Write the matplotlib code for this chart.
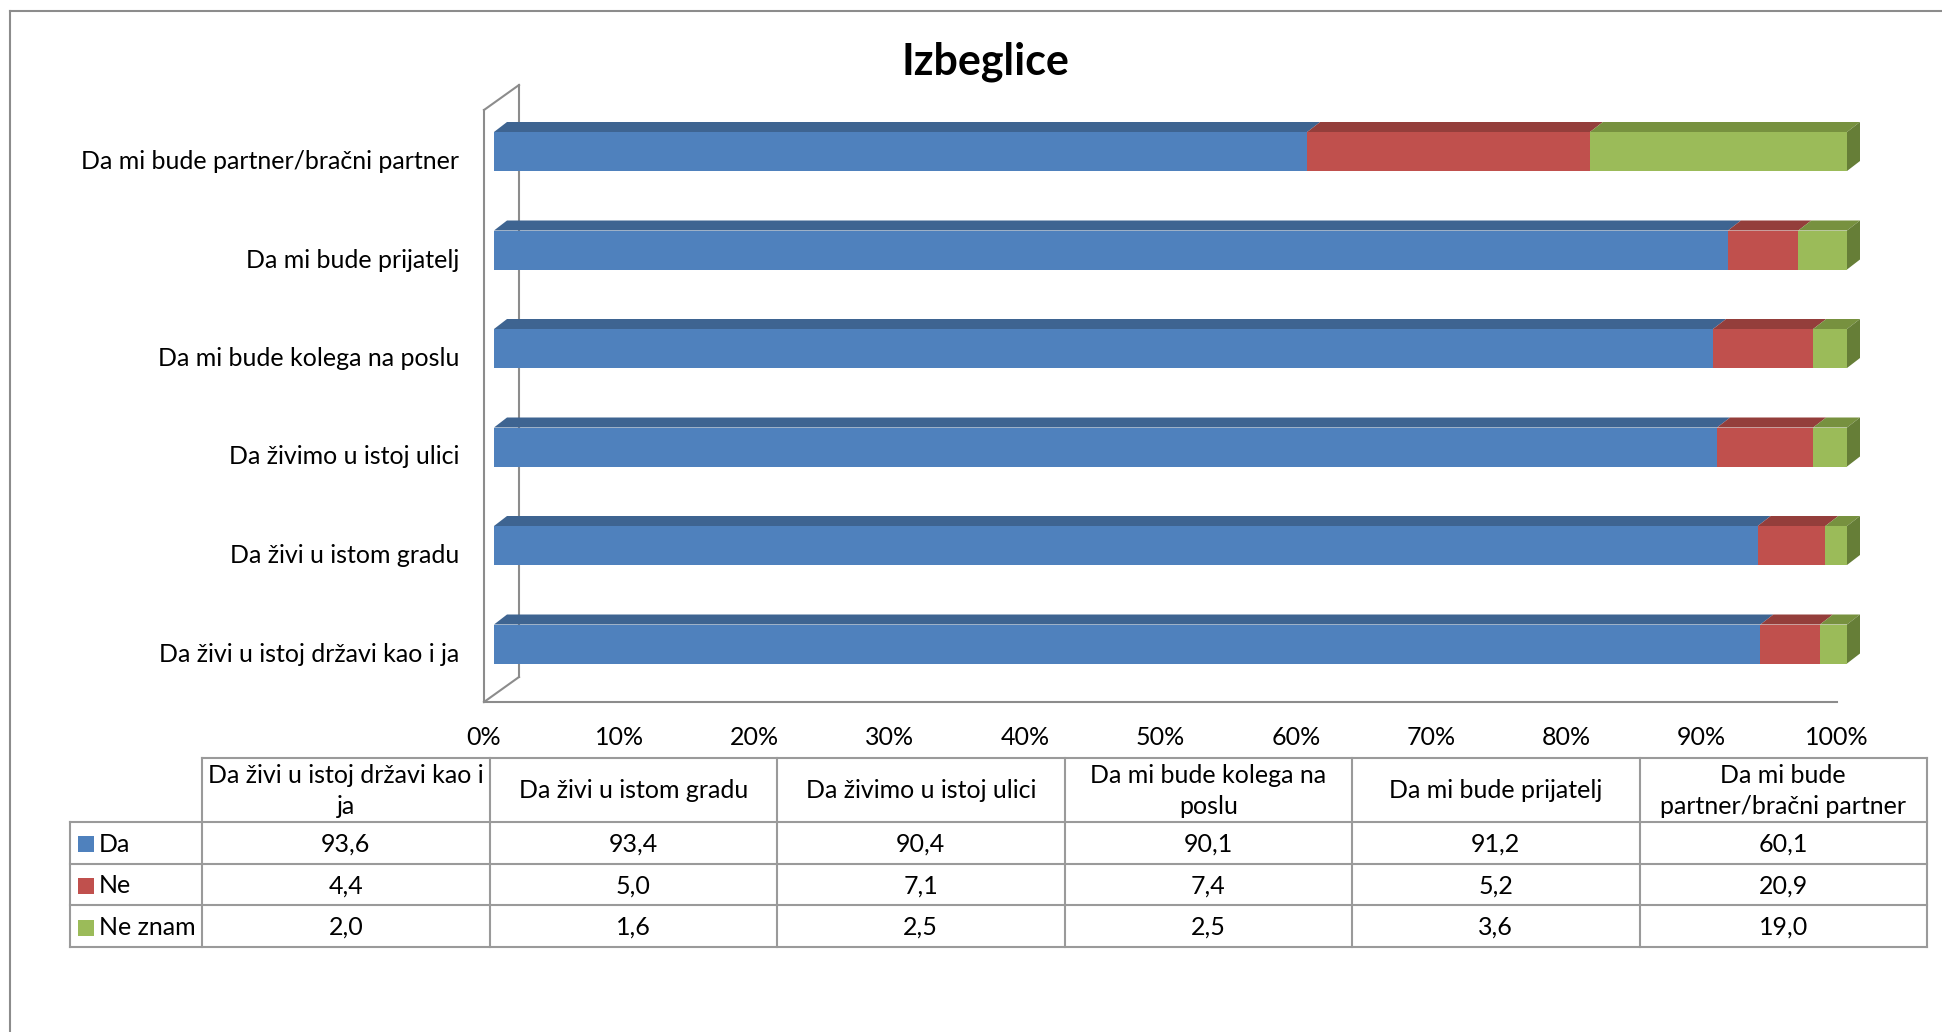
import numpy as np
import matplotlib
matplotlib.use('Agg')
import matplotlib.pyplot as plt
from matplotlib.patches import Polygon, Rectangle
from matplotlib.transforms import ScaledTranslation

plt.rcParams['font.family'] = ['Lato', 'DejaVu Sans']

# data, bottom bar first (same order as the table columns)
categories = ['Da živi u istoj državi kao i ja', 'Da živi u istom gradu', 'Da živimo u istoj ulici',
              'Da mi bude kolega na poslu', 'Da mi bude prijatelj', 'Da mi bude partner/bračni partner']
header_labels = ['Da živi u istoj državi kao i\nja', 'Da živi u istom gradu', 'Da živimo u istoj ulici',
                 'Da mi bude kolega na\nposlu', 'Da mi bude prijatelj', 'Da mi bude\npartner/bračni partner']
series = ['Da', 'Ne', 'Ne znam']
da = [93.6, 93.4, 90.4, 90.1, 91.2, 60.1]
ne = [4.4, 5.0, 7.1, 7.4, 5.2, 20.9]
ne_znam = [2.0, 1.6, 2.5, 2.5, 3.6, 19.0]
xticks = [0, 10, 20, 30, 40, 50, 60, 70, 80, 90, 100]

colors = ['#4F81BD', '#C0504D', '#9BBB59']
top_colors = ['#3E6491', '#943E3B', '#77913F']
side_color = '#667E37'
grey = '#8C8C8C'
fs = 18

W, H = 1942, 1032
fig = plt.figure(figsize=(W / 100, H / 100), dpi=100)

# background axes in pixels: frame + table
bg = fig.add_axes([0, 0, 1, 1])
bg.set_xlim(0, W)
bg.set_ylim(H, 0)
bg.axis('off')
bg.plot([10, 10], [11, H], color=grey, lw=1.5)
bg.plot([10, W], [11, 11], color=grey, lw=1.5)

# main 3d-ish bar axes
ax_l, ax_r, ax_b, ax_t = 484, 1837, 702, 110
ax = fig.add_axes([ax_l / W, 1 - ax_b / H, (ax_r - ax_l) / W, (ax_b - ax_t) / H])
px_x = (ax_r - ax_l) / 100.0
px_y = 98.5
ylo = -(ax_b - 644) / px_y
yhi = ylo + (ax_b - ax_t) / px_y
ax.set_xlim(0, 100)
ax.set_ylim(ylo, yhi)

vals = np.array([da, ne, ne_znam])
pct = vals / vals.sum(axis=0) * 100
y = np.arange(len(categories))
h = 39 / px_y
off = 10 / px_x
ddx, ddy = 13 / px_x, 10 / px_y

left = np.zeros(len(categories))
for s in range(len(series)):
    bars = ax.barh(y, pct[s], left=left + off, height=h, color=colors[s], edgecolor='none', zorder=3)
    for b in bars:
        b.set_clip_on(False)
    for i in range(len(categories)):
        x0 = left[i] + off
        x1 = x0 + pct[s][i]
        yt = y[i] + h / 2
        ax.add_patch(Polygon([(x0, yt), (x1, yt), (x1 + ddx, yt + ddy), (x0 + ddx, yt + ddy)],
                             closed=True, fc=top_colors[s], ec='none', zorder=2, clip_on=False))
    left = left + pct[s]
for i in range(len(categories)):
    x1 = left[i] + off
    yb, yt = y[i] - h / 2, y[i] + h / 2
    ax.add_patch(Polygon([(x1, yb), (x1, yt), (x1 + ddx, yt + ddy), (x1 + ddx, yb + ddy)],
                         closed=True, fc=side_color, ec='none', zorder=2, clip_on=False))

# side wall
wx, wy = 35 / px_x, 25 / px_y
kw = dict(color=grey, lw=1.5, clip_on=False, zorder=1)
ax.plot([0, wx], [ylo, ylo + wy], **kw)
ax.plot([wx, wx], [ylo + wy, yhi + wy], **kw)
ax.plot([0, wx], [yhi, yhi + wy], **kw)

for sp in ['top', 'right']:
    ax.spines[sp].set_visible(False)
for sp in ['left', 'bottom']:
    ax.spines[sp].set_color(grey)
    ax.spines[sp].set_linewidth(1.5)

ax.set_xticks(xticks)
ax.set_xticklabels([f'{v}%' for v in xticks], fontsize=fs)
ax.tick_params(axis='x', length=0, pad=17)
ax.set_yticks(y)
ax.set_yticklabels(categories, fontsize=fs)
ax.tick_params(axis='y', length=0, pad=18)
down = ScaledTranslation(0, -8 / 100, fig.dpi_scale_trans)
for lbl in ax.get_yticklabels():
    lbl.set_transform(lbl.get_transform() + down)
ax.patch.set_alpha(0)

fig.text(985 / W, 1 - 62 / H, 'Izbeglice', ha='center', va='center', fontsize=31, fontweight='bold')

# data table
t_left, t_lab, t_right = 70, 202, 1927
rows_y = [758, 822, 863.5, 905, 947]
col_w = (t_right - t_lab) / len(categories)
col_x = [t_lab + k * col_w for k in range(len(categories) + 1)]
lkw = dict(color='#9A9A9A', lw=1.5)
bg.plot([t_lab, t_right], [rows_y[0]] * 2, **lkw)
for yy in rows_y[1:]:
    bg.plot([t_left, t_right], [yy, yy], **lkw)
bg.plot([t_left, t_left], [rows_y[1], rows_y[-1]], **lkw)
for xx in col_x:
    bg.plot([xx, xx], [rows_y[0], rows_y[-1]], **lkw)

for k, lab in enumerate(header_labels):
    bg.text(col_x[k] + col_w / 2, (rows_y[0] + rows_y[1]) / 2 + 1, lab, ha='center', va='center',
            fontsize=fs, linespacing=1.38)
for s, name in enumerate(series):
    yc = (rows_y[s + 1] + rows_y[s + 2]) / 2 + 1.5
    bg.add_patch(Rectangle((78, yc - 8), 16, 16, fc=colors[s], ec='none'))
    bg.text(99, yc, name, ha='left', va='center', fontsize=fs)
    for k in range(len(categories)):
        bg.text(col_x[k] + col_w / 2, yc, f'{vals[s][k]:.1f}'.replace('.', ','),
                ha='center', va='center', fontsize=fs)

fig.savefig('out.png', dpi=100)
